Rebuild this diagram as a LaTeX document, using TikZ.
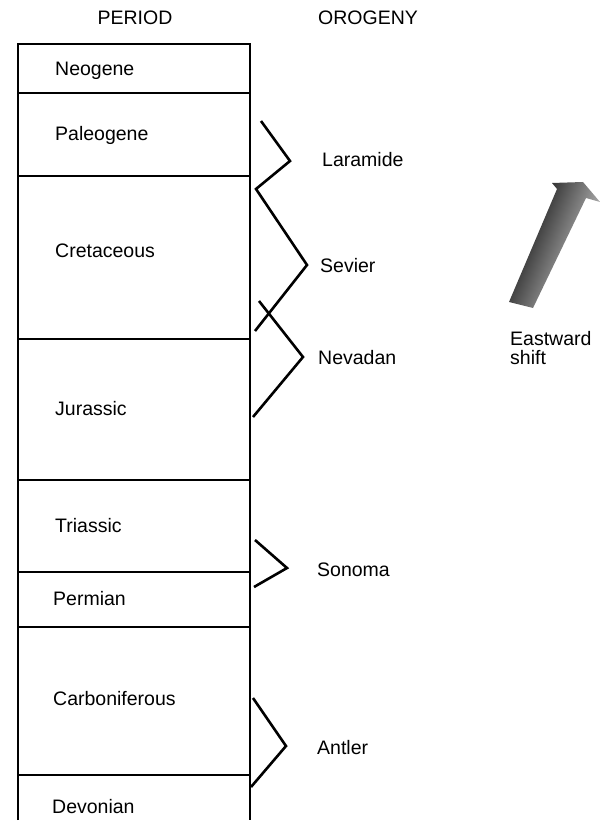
\documentclass[tikz,border=0pt]{standalone}
\usepackage{fontspec}
\setmainfont{Liberation Sans}
\begin{document}
\begin{tikzpicture}[x=1pt,y=-1pt,
    every node/.style={font=\fontsize{19.5}{23}\selectfont},
    label/.style={anchor=west,inner sep=0pt,text height=14pt,text depth=0pt},
    rule/.style={line width=1.9pt},
    zigzag/.style={line width=2.6pt,line join=miter}]
    \useasboundingbox (0,0) rectangle (601,826);

    % column headings
    \node[inner sep=0pt,text height=14pt,text depth=0pt] (period) at (135,18) {PERIOD};
    \node[label] (orogeny) at (318,18) {OROGENY};

    % period column
    \draw[rule] (18,820)--(18,44)--(250,44)--(250,820);
    \foreach \y in {93,176,339,480,572,627,775} {
        \draw[rule] (18,\y)--(250,\y);
    }
    \node[label] (neogene) at (55,69) {Neogene};
    \node[label] (paleogene) at (55,134) {Paleogene};
    \node[label] (cretaceous) at (55,250) {Cretaceous};
    \node[label] (jurassic) at (55,408) {Jurassic};
    \node[label] (triassic) at (55,525) {Triassic};
    \node[label] (permian) at (53,598) {Permian};
    \node[label] (carboniferous) at (53,698) {Carboniferous};
    \node[label] (devonian) at (52,806) {Devonian};

    % orogenies
    \draw[zigzag] (261,121)--(290,161)--(256,189)--(307,265)--(255,331);
    \draw[zigzag] (259,301)--(303,357)--(253,417);
    \draw[zigzag] (255,540)--(287,568)--(254,587);
    \draw[zigzag] (253,698)--(286,746)--(251,787);
    \node[label] (laramide) at (322,160) {Laramide};
    \node[label] (sevier) at (320,265) {Sevier};
    \node[label] (nevadan) at (318,357) {Nevadan};
    \node[label] (sonoma) at (317,569) {Sonoma};
    \node[label] (antler) at (317,747) {Antler};

    % shift arrow
    \shade[left color=black,middle color=black!55,right color=black!12,shading angle=67]
        (509,302)--(557,189)--(552,183)--(583,182)--(600,202)--(586,198)--(533,308)--cycle;
    \node[label] (eastward) at (510,338) {Eastward};
    \node[label] (shift) at (510,357) {shift};
\end{tikzpicture}
\end{document}
